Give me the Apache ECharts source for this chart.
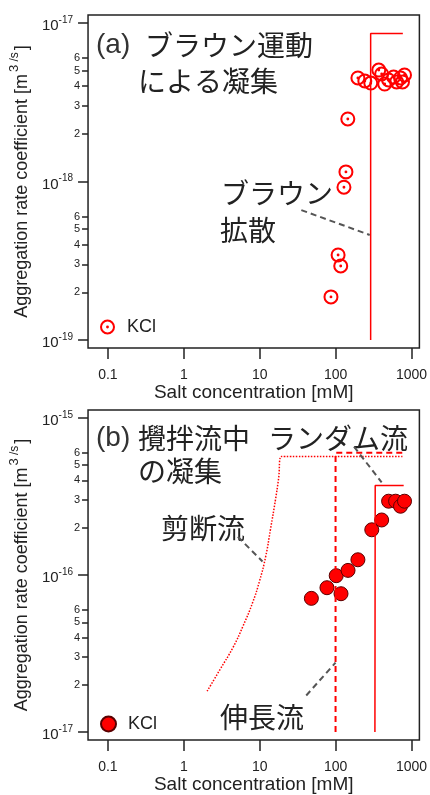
<!DOCTYPE html>
<html><head><meta charset="utf-8">
<script src="https://cdn.jsdelivr.net/npm/echarts@6/dist/echarts.min.js"></script>
<style>html,body{margin:0;padding:0;background:#fff}#c{width:430px;height:795px}</style>
</head><body><div id="c"></div>
<script>
// ---- tick values ----
const xTicks = [0.1, 1, 10, 100, 1000];
const yMajorA = [1e-19, 1e-18, 1e-17];
const yMinorA = [2e-19, 3e-19, 4e-19, 5e-19, 6e-19, 2e-18, 3e-18, 4e-18, 5e-18, 6e-18];
const yMajorB = [1e-17, 1e-16, 1e-15];
const yMinorB = [2e-17, 3e-17, 4e-17, 5e-17, 6e-17, 2e-16, 3e-16, 4e-16, 5e-16, 6e-16];

// ---- (a) Brownian aggregation, KCl ----
const brownX = [87, 108, 117, 129, 137, 145, 197, 243, 291, 371, 405, 444, 500, 582, 637, 718, 762, 810];
const brownY = [1.87e-19, 3.44e-19, 2.93e-19, 9.2e-19, 1.15e-18, 2.48e-18, 4.50e-18, 4.31e-18, 4.18e-18,
                5.05e-18, 4.77e-18, 4.12e-18, 4.37e-18, 4.56e-18, 4.25e-18, 4.50e-18, 4.25e-18, 4.70e-18];
const brownTheoryX = [290, 290, 770];
const brownTheoryY = [1e-19, 8.6e-18, 8.6e-18];
const brownLeaderX = [35.4, 282];
const brownLeaderY = [6.6e-19, 4.6e-19];

// ---- (b) aggregation in stirred flow, KCl ----
const stirX = [48, 77, 118, 102, 146, 197, 300, 405, 500, 618, 718, 810];
const stirY = [7.1e-17, 8.3e-17, 7.6e-17, 9.9e-17, 1.07e-16, 1.25e-16, 1.94e-16, 2.24e-16, 2.95e-16, 2.95e-16, 2.74e-16, 2.95e-16];
const randomX = [330, 333, 790];
const randomY = [1e-17, 3.72e-16, 3.72e-16];
const elongX = [100, 100, 790];
const elongY = [1e-17, 6.0e-16, 6.0e-16];
const shearX = [2.03, 3.0, 4.44, 6.0, 8.1, 10.0, 12.0, 13.9, 16.2, 17.7, 19.4, 790];
const shearY = [1.82e-17, 2.50e-17, 3.45e-17, 4.70e-17, 6.70e-17, 9.22e-17, 1.31e-16, 1.96e-16, 3.04e-16, 4.06e-16, 5.68e-16, 5.68e-16];
const randLeaderX = [175, 405];
const randLeaderY = [6.56e-16, 3.89e-16];
const shearLeaderX = [5.16, 10.9];
const shearLeaderY = [1.75e-16, 1.22e-16];
const elongLeaderX = [41.1, 100];
const elongLeaderY = [1.71e-17, 2.77e-17];

const zip = (a, b) => a.map((v, i) => [v, b[i]]);
const RED = '#ff0000';
const INK = '#222';
const FONT = '"Liberation Sans", Arial, sans-serif';
const JP = '"Noto Sans CJK JP", sans-serif';
const ring = 'path://M10,0A10,10,0,1,1,-10,0A10,10,0,1,1,10,0ZM7.3,0A7.3,7.3,0,1,0,-7.3,0A7.3,7.3,0,1,0,7.3,0ZM1.9,0A1.9,1.9,0,1,1,-1.9,0A1.9,1.9,0,1,1,1.9,0Z';

const xMin = Math.pow(10, -1.2614), xMax = Math.pow(10, 3.1046);
const yA = [Math.pow(10, -19.0505), Math.pow(10, -16.9495)];
const yB = [Math.pow(10, -17.0505), Math.pow(10, -14.9495)];

function expOf(v) { return Math.floor(Math.log10(v) + 1e-9); }
function majorFmt(v) { return '{b|10}{s|' + expOf(v) + '}'; }
function minorFmt(v) { return String(Math.round(v / Math.pow(10, expOf(v)))); }

function xAxisDef(gi) {
  return {
    type: 'log', gridIndex: gi, min: xMin, max: xMax,
    axisLine: { show: false },
    axisTick: { show: true, inside: false, length: 11, customValues: xTicks, lineStyle: { color: INK, width: 1.5 } },
    axisLabel: { customValues: xTicks, margin: 20, color: INK, fontFamily: FONT, fontSize: 14,
      formatter: v => (v < 1 ? String(Math.round(v * 10) / 10) : String(Math.round(v))) },
    splitLine: { show: false }, minorTick: { show: false },
    name: 'Salt concentration [mM]', nameLocation: 'middle', nameGap: 35,
    nameTextStyle: { color: INK, fontFamily: FONT, fontSize: 19 }
  };
}
function yMajorDef(gi, ext, ticks) {
  return {
    type: 'log', gridIndex: gi, min: ext[0], max: ext[1], position: 'left',
    axisLine: { show: false },
    axisTick: { show: true, length: 10, customValues: ticks, lineStyle: { color: INK, width: 1.5 } },
    axisLabel: { customValues: ticks, margin: 15, formatter: majorFmt,
      rich: {
        b: { fontFamily: FONT, fontSize: 15, color: INK, padding: [6, 0, 0, 0] },
        s: { fontFamily: FONT, fontSize: 10, color: INK, padding: [0, 0, 6, 0] }
      } },
    splitLine: { show: false }, minorTick: { show: false },
    name: '{t|Aggregation rate coefficient [m}{u|3}{v| /s}{t|]}', nameLocation: 'middle', nameGap: 44,
    nameTextStyle: { rich: {
      t: { fontFamily: FONT, fontSize: 18, color: INK, padding: [6, 0, 0, 0] },
      u: { fontFamily: FONT, fontSize: 13, color: INK, padding: [0, 0, 9, 2] },
      v: { fontFamily: FONT, fontSize: 12, color: INK, padding: [0, 2, 9, 0] }
    } }
  };
}
function yMinorDef(gi, ext, ticks) {
  return {
    type: 'log', gridIndex: gi, min: ext[0], max: ext[1], position: 'left',
    axisLine: { show: false },
    axisTick: { show: true, length: 6, customValues: ticks, lineStyle: { color: INK, width: 1.5 } },
    axisLabel: { customValues: ticks, margin: 8, formatter: minorFmt, fontFamily: FONT, fontSize: 11, color: INK },
    splitLine: { show: false }, minorTick: { show: false }
  };
}

function jpText(txt, x, y) {
  return { type: 'text', x: x, y: y, style: { text: txt, font: '28px ' + JP, fill: '#222', textVerticalAlign: 'middle' } };
}
function abText(txt, x, y) {
  return { type: 'text', x: x, y: y, style: { text: txt, font: '28px ' + FONT, fill: '#333', textVerticalAlign: 'middle' } };
}

const leaderStyle = { color: '#555', width: 2, type: [6, 4] };

const option = {
  animation: false,
  backgroundColor: '#fff',
  grid: [
    { left: 87, top: 15, width: 334, height: 333, show: true, borderColor: INK, borderWidth: 1.5, backgroundColor: 'transparent' },
    { left: 87, top: 410, width: 334, height: 333, show: true, borderColor: INK, borderWidth: 1.5, backgroundColor: 'transparent' }
  ],
  xAxis: [xAxisDef(0), xAxisDef(1)],
  yAxis: [yMajorDef(0, yA, yMajorA), yMinorDef(0, yA, yMinorA), yMajorDef(1, yB, yMajorB), yMinorDef(1, yB, yMinorB)],
  legend: [
    { data: [{ name: 'KCl', icon: ring }], left: 95, top: 313, itemWidth: 15, itemHeight: 15, itemGap: 0, selectedMode: false,
      textStyle: { fontFamily: FONT, fontSize: 18, color: INK, padding: [0, 0, 0, 7] } },
    { data: [{ name: 'KCl ', icon: 'circle' }], left: 95, top: 710, itemWidth: 15, itemHeight: 15, itemGap: 0, selectedMode: false,
      textStyle: { fontFamily: FONT, fontSize: 18, color: INK, padding: [0, 0, 0, 7] } }
  ],
  series: [
    { type: 'line', xAxisIndex: 0, yAxisIndex: 0, data: zip(brownTheoryX, brownTheoryY), symbol: 'none', silent: true,
      lineStyle: { color: RED, width: 1.5 } },
    { type: 'line', xAxisIndex: 0, yAxisIndex: 0, data: zip(brownLeaderX, brownLeaderY), symbol: 'none', silent: true,
      lineStyle: leaderStyle },
    { name: 'KCl', type: 'scatter', xAxisIndex: 0, yAxisIndex: 0, data: zip(brownX, brownY), symbol: ring, symbolSize: 15,
      itemStyle: { color: RED, opacity: 1 } },

    { type: 'line', xAxisIndex: 1, yAxisIndex: 2, data: zip(shearX, shearY), symbol: 'none', silent: true, smooth: 0.5,
      lineStyle: { color: RED, width: 1.5, type: [1.5, 1.5] } },
    { type: 'line', xAxisIndex: 1, yAxisIndex: 2, data: zip(elongX, elongY), symbol: 'none', silent: true,
      lineStyle: { color: RED, width: 2, type: [6, 4] } },
    { type: 'line', xAxisIndex: 1, yAxisIndex: 2, data: zip(randomX, randomY), symbol: 'none', silent: true,
      lineStyle: { color: RED, width: 1.5 } },
    { type: 'line', xAxisIndex: 1, yAxisIndex: 2, data: zip(randLeaderX, randLeaderY), symbol: 'none', silent: true, lineStyle: leaderStyle },
    { type: 'line', xAxisIndex: 1, yAxisIndex: 2, data: zip(shearLeaderX, shearLeaderY), symbol: 'none', silent: true, lineStyle: leaderStyle },
    { type: 'line', xAxisIndex: 1, yAxisIndex: 2, data: zip(elongLeaderX, elongLeaderY), symbol: 'none', silent: true, lineStyle: leaderStyle },
    { name: 'KCl ', type: 'scatter', xAxisIndex: 1, yAxisIndex: 2, data: zip(stirX, stirY), symbol: 'circle', symbolSize: 14,
      itemStyle: { color: RED, borderColor: '#5a0000', borderWidth: 1, opacity: 1 } }
  ],
  graphic: [
    abText('(a)', 96, 45), jpText('ブラウン運動', 145, 45), jpText('による凝集', 138, 81),
    jpText('ブラウン', 221, 193), jpText('拡散', 220, 230),
    abText('(b)', 96, 438), jpText('攪拌流中', 138, 438), jpText('ランダム流', 268, 438), jpText('の凝集', 138, 471),
    jpText('剪断流', 161, 528), jpText('伸長流', 220, 717)
  ]
};
const chart = echarts.init(document.getElementById('c'));
chart.setOption(option);
</script></body></html>
